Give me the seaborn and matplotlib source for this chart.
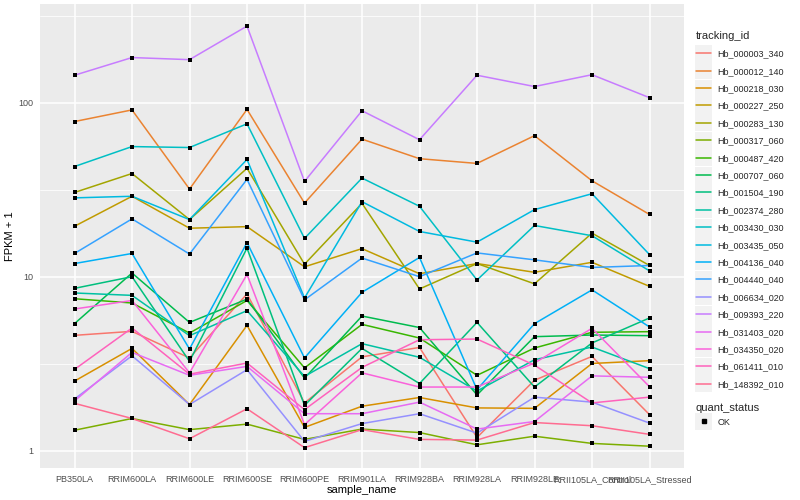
import numpy as np
import pandas as pd
import matplotlib
matplotlib.use("Agg")
import matplotlib.pyplot as plt
from matplotlib.lines import Line2D
from matplotlib.patches import Rectangle
from matplotlib.transforms import IdentityTransform
from matplotlib.ticker import FixedLocator, NullFormatter
import seaborn as sns

samples = ["PB350LA", "RRIM600LA", "RRIM600LE", "RRIM600SE", "RRIM600PE",
           "RRIM901LA", "RRIM928BA", "RRIM928LA", "RRIM928LE",
           "RRII105LA_Control", "RRII105LA_Stressed"]

tracking_ids = ["Hb_000003_340", "Hb_000012_140", "Hb_000218_030", "Hb_000227_250",
                "Hb_000283_130", "Hb_000317_060", "Hb_000487_420", "Hb_000707_060",
                "Hb_001504_190", "Hb_002374_280", "Hb_003430_030", "Hb_003435_050",
                "Hb_004136_040", "Hb_004440_040", "Hb_006634_020", "Hb_009393_220",
                "Hb_031403_020", "Hb_034350_020", "Hb_061411_010", "Hb_148392_010"]

# FPKM + 1, one list per gene, in sample order
hb_000003_340 = [4.6, 4.85, 3.41, 7.96, 1.88, 3.46, 3.92, 1.19, 2.54, 3.48, 1.61]
hb_000012_140 = [78, 91, 31.9, 91.6, 26.5, 61.8, 47.7, 44.8, 64.7, 35.6, 22.8]
hb_000218_030 = [2.51, 3.87, 1.84, 5.25, 1.36, 1.8, 2.02, 1.76, 1.75, 3.17, 3.29]
hb_000227_250 = [19.5, 29, 19, 19.4, 11.4, 14.5, 10.4, 11.9, 10.6, 12.1, 8.8]
hb_000283_130 = [30.5, 39.2, 21.3, 42, 11.8, 26.4, 8.5, 11.9, 9.1, 17.8, 11.6]
hb_000317_060 = [1.31, 1.53, 1.32, 1.42, 1.16, 1.33, 1.27, 1.08, 1.21, 1.1, 1.06]
hb_000487_420 = [7.47, 7.06, 4.74, 7.3, 2.99, 5.32, 4.44, 2.71, 3.89, 4.79, 4.83]
hb_000707_060 = [5.37, 10.5, 5.46, 7.43, 2.61, 5.94, 5.1, 2.09, 4.52, 4.62, 4.58]
hb_001504_190 = [8.57, 10.0, 3.26, 14.6, 1.82, 3.87, 2.43, 5.46, 2.32, 4.16, 5.79]
hb_002374_280 = [8.06, 7.81, 4.58, 6.38, 2.67, 4.12, 3.44, 2.2, 3.33, 3.94, 2.96]
hb_003430_030 = [43, 56, 55.3, 75.7, 16.6, 36.9, 25.4, 9.57, 19.7, 17.2, 10.8]
hb_003435_050 = [28.4, 29, 21.3, 47.2, 7.54, 27, 18.2, 15.8, 24.3, 30, 13.4]
hb_004136_040 = [11.9, 13.6, 3.84, 15.7, 3.41, 8.13, 12.9, 2.24, 5.37, 8.4, 5.14]
hb_004440_040 = [13.6, 21.5, 13.5, 36.3, 7.36, 12.8, 10.0, 13.7, 12.5, 11.3, 11.6]
hb_006634_020 = [1.98, 3.51, 1.84, 2.92, 1.13, 1.43, 1.63, 1.26, 2.03, 1.9, 1.44]
hb_009393_220 = [144, 182, 177, 276, 35.3, 90, 61.3, 144, 124, 145, 107]
hb_031403_020 = [1.93, 3.67, 2.71, 3.05, 1.63, 1.63, 1.9, 1.33, 1.47, 2.69, 2.64]
hb_034350_020 = [6.52, 7.3, 2.8, 10.3, 1.41, 2.8, 2.32, 2.32, 3.19, 5.05, 2.33]
hb_061411_010 = [2.93, 5.07, 2.75, 3.19, 1.72, 3.01, 4.34, 4.38, 3.1, 1.88, 2.03]
hb_148392_010 = [1.87, 1.53, 1.17, 1.74, 1.04, 1.32, 1.16, 1.15, 1.45, 1.39, 1.24]

fpkm = [hb_000003_340, hb_000012_140, hb_000218_030, hb_000227_250, hb_000283_130,
        hb_000317_060, hb_000487_420, hb_000707_060, hb_001504_190, hb_002374_280,
        hb_003430_030, hb_003435_050, hb_004136_040, hb_004440_040, hb_006634_020,
        hb_009393_220, hb_031403_020, hb_034350_020, hb_061411_010, hb_148392_010]

quant_status = ["OK"]

# ggplot default hue palette for 20 levels
palette = ["#F8766D", "#EA8331", "#D89000", "#C09B00", "#A3A500", "#7CAE00", "#39B600",
           "#00BB4E", "#00BF7D", "#00C1A3", "#00BFC4", "#00BAE0", "#00B0F6", "#35A2FF",
           "#9590FF", "#C77CFF", "#E76BF3", "#FA62DB", "#FF62BC", "#FF6C91"]

rows = []
for tid, vals in zip(tracking_ids, fpkm):
    for s, v in zip(samples, vals):
        rows.append((tid, s, v, quant_status[0]))
df = pd.DataFrame(rows, columns=["tracking_id", "sample_name", "fpkm1", "quant_status"])
df["pos"] = df["sample_name"].map({s: i for i, s in enumerate(samples)})

sns.set_theme(style="darkgrid", rc={
    "axes.facecolor": "#EBEBEB",
    "grid.color": "white",
    "axes.edgecolor": "#EBEBEB",
})
plt.rcParams["font.family"] = ["Liberation Sans", "DejaVu Sans"]

fig = plt.figure(figsize=(8, 5), dpi=100)
ax = fig.add_axes([40 / 800, 1 - 468 / 500, 644 / 800, 464 / 500])

sns.lineplot(data=df, x="pos", y="fpkm1", hue="tracking_id", hue_order=tracking_ids,
             palette=palette, lw=1.1, errorbar=None, legend=False, ax=ax)
sns.scatterplot(data=df, x="pos", y="fpkm1", color="black", marker="s", s=7,
                linewidth=0, legend=False, ax=ax, zorder=3)

ax.set_yscale("log")
ax.set_ylim(10 ** -0.1, 10 ** 2.568)
ax.set_xlim(-0.6, len(samples) - 0.4)
ax.yaxis.set_major_locator(FixedLocator([1, 10, 100]))
ax.set_yticklabels(["1", "10", "100"])
ax.yaxis.set_minor_locator(FixedLocator([10 ** 0.5, 10 ** 1.5, 10 ** 2.5]))
ax.yaxis.set_minor_formatter(NullFormatter())
ax.set_xticks(range(len(samples)))
ax.set_xticklabels(samples)
ax.xaxis.set_minor_locator(FixedLocator([]))

ax.grid(which="major", color="white", lw=1.1)
ax.yaxis.grid(which="minor", color="white", lw=0.55)
for sp in ax.spines.values():
    sp.set_visible(False)
ax.tick_params(axis="both", which="major", length=3, width=0.8, color="#333333",
               labelcolor="#4D4D4D", labelsize=6.5, pad=2)
ax.tick_params(axis="y", which="minor", length=0)

ax.set_xlabel("sample_name", fontsize=8, color="black", labelpad=1)
ax.set_ylabel("FPKM + 1", fontsize=8, color="black", labelpad=2)

handles = [Line2D([0], [0], color=c, lw=1.1) for c in palette]
leg1 = fig.legend(handles, tracking_ids, title="tracking_id", loc="upper left",
                  bbox_to_anchor=(696 / 800, 1 - 31 / 500), frameon=False,
                  fontsize=6.5, title_fontsize=8, handlelength=1.7, handletextpad=0.7,
                  labelspacing=0.93, borderpad=0, borderaxespad=0, alignment="left")
qhandle = [Line2D([0], [0], marker="s", color="black", ls="none", markersize=2.5)]
leg2 = fig.legend(qhandle, quant_status, title="quant_status", loc="upper left",
                  bbox_to_anchor=(696 / 800, 1 - 403 / 500), frameon=False,
                  fontsize=6.5, title_fontsize=8, handlelength=1.7, handletextpad=0.7,
                  borderpad=0, borderaxespad=0, alignment="left")

# grey key boxes behind legend glyphs, like ggplot
fig.canvas.draw()
for leg in (leg1, leg2):
    for h in leg.legend_handles:
        bb = h.get_window_extent()
        cx, cy = (bb.x0 + bb.x1) / 2, (bb.y0 + bb.y1) / 2
        fig.add_artist(Rectangle((cx - 8.5, cy - 8.5), 17, 17, transform=IdentityTransform(),
                                 facecolor="#F2F2F2", edgecolor="none", zorder=0))

fig.savefig("out.png", dpi=100)
